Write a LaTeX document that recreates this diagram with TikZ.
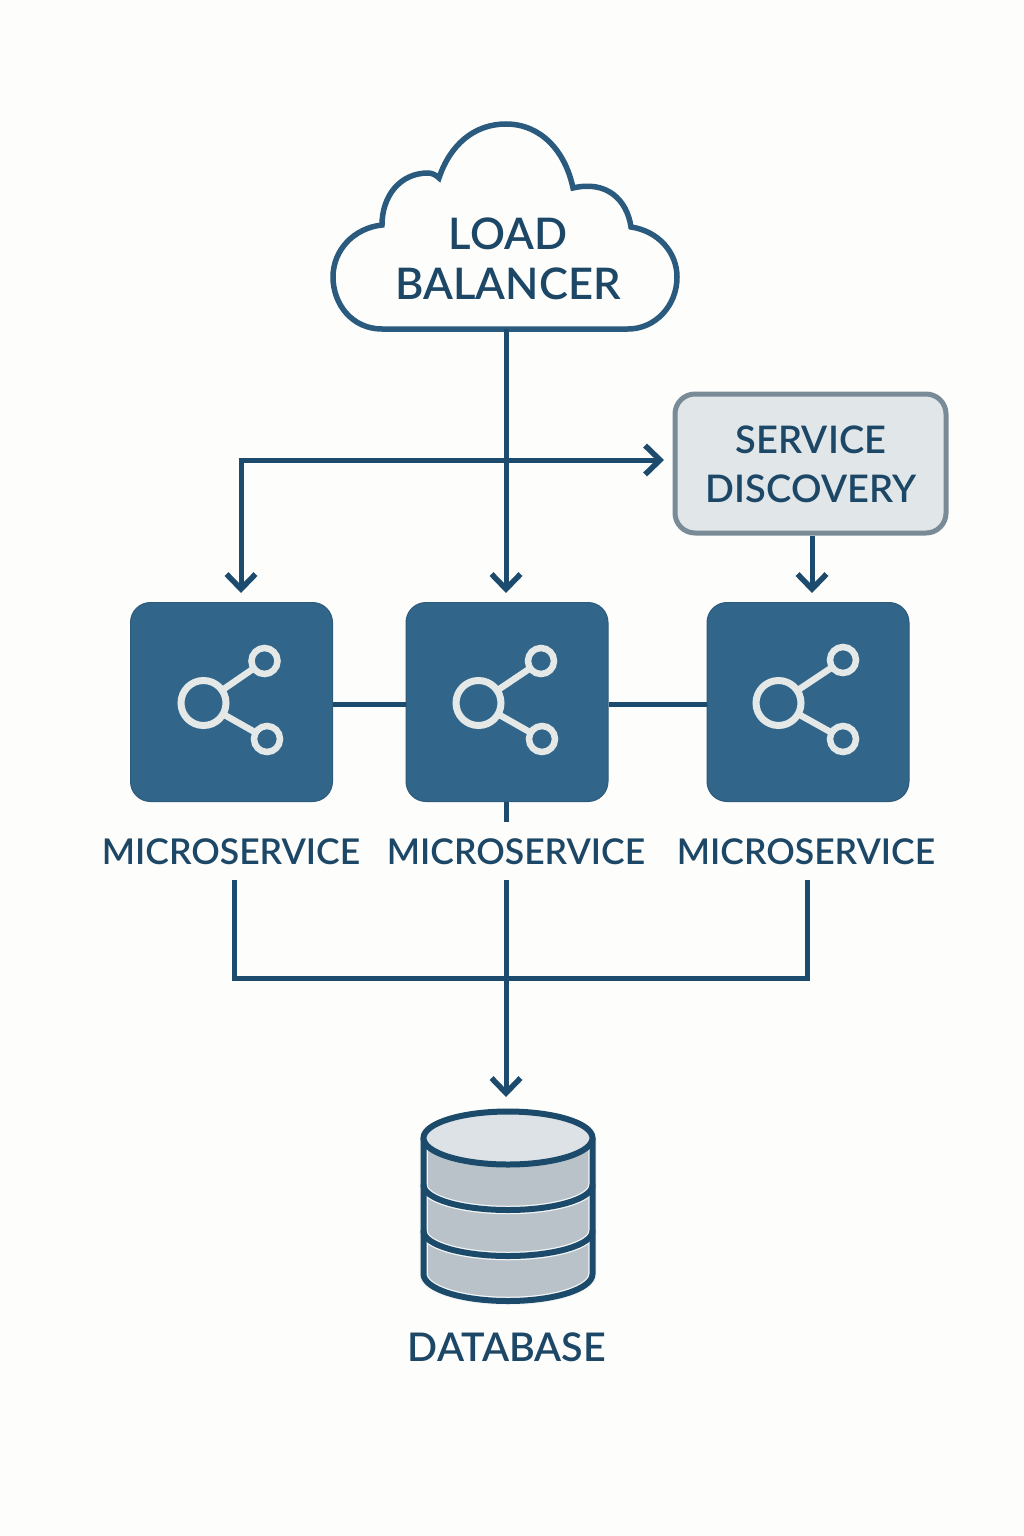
\documentclass[tikz,border=0pt]{standalone}
\usepackage{fontspec}
\setmainfont{Lato Semibold}
\usetikzlibrary{arrows.meta}
\definecolor{bgc}{HTML}{FDFDFB}
\definecolor{ink}{HTML}{1C4766}
\definecolor{line}{HTML}{1D4B6E}
\definecolor{ms}{HTML}{31658A}
\definecolor{icon}{HTML}{E4E9E8}
\definecolor{sdfill}{HTML}{E1E6E9}
\definecolor{sdedge}{HTML}{7A8B98}
\definecolor{dbtop}{HTML}{DCE2E5}
\definecolor{dbbody}{HTML}{B8C2C8}
\definecolor{dbedge}{HTML}{1B4A6B}
\tikzset{
  label text/.style={text=ink,inner sep=0pt,align=center,font=\fontsize{43.5}{50}\selectfont},
  sd text/.style={text=ink,inner sep=0pt,align=center,font=\fontsize{38}{49}\selectfont},
  ms label/.style={text=ink,inner sep=0pt,font=\fontsize{35.5}{36}\selectfont},
  db label/.style={text=ink,inner sep=0pt,font=\fontsize{39.5}{40}\selectfont},
  ms box/.style={draw=ms!90!black,line width=1pt,fill=ms,rounded corners=20pt,minimum width=202pt,minimum height=199pt,inner sep=0pt},
  sd box/.style={draw=sdedge,line width=5pt,fill=sdfill,rounded corners=20pt,minimum width=271pt,minimum height=139pt,inner sep=0pt},
  conn/.style={draw=line,line width=5pt},
  arr/.style={conn,-{Straight Barb[length=15pt,width=29pt,line width=5.5pt]}},
  cloudline/.style={draw=ms!65!ink,line width=5.5pt,fill=bgc,line join=miter},
  hub/.style={draw=icon,line width=7pt},
  leaf/.style={draw=icon,line width=6.5pt},
  spoke/.style={draw=icon,line width=6.5pt},
  dbline/.style={draw=dbedge,line width=6pt,line cap=round,line join=round},
  halo/.style={draw=white!85!dbbody,line width=8.5pt},
}
\newcommand{\shareicon}[6]{%
  \draw[spoke] (#1,#2) -- (#3,#4);
  \draw[spoke] (#1,#2) -- (#5,#6);
  \draw[hub,fill=ms] (#1,#2) circle (22.5pt);
  \draw[leaf,fill=ms] (#3,#4) circle (13pt);
  \draw[leaf,fill=ms] (#5,#6) circle (13pt);
}
\begin{document}
\begin{tikzpicture}[x=1pt,y=-1pt]
\useasboundingbox (0,0) rectangle (1024,1536);
\fill[bgc] (0,0) rectangle (1024,1536);

% cloud
\draw[cloudline] (382,329)
  .. controls (352,329) and (333,304) .. (333,277)
  .. controls (333,250) and (354,228) .. (382,225)
  .. controls (382,196) and (400,173) .. (428,173)
  .. controls (432,173) and (436,175) .. (439,178)
  .. controls (450,145) and (474,124) .. (506,124)
  .. controls (540,124) and (565,150) .. (573,188)
  .. controls (607,180) and (627,200) .. (631,227)
  .. controls (658,231) and (677,252) .. (677,277)
  .. controls (677,306) and (655,329) .. (628,329)
  -- cycle;
\coordinate (lbout) at (506,329);
\node[label text] (lb) at (508,259) {LOAD\\BALANCER};

% boxes
\node[sd box] (sd) at (810.5,463.5) {};
\node[sd text] (sdt) at (811,464.5) {SERVICE\\DISCOVERY};
\node[ms box] (m1) at (231.5,702) {};
\node[ms box] (m2) at (507,702) {};
\node[ms box] (m3) at (808,702) {};
\shareicon{203.5}{703}{264.5}{661}{267}{739}
\shareicon{478.5}{703}{541}{661}{542}{739}
\shareicon{778.5}{703}{843}{660}{843}{739}

\node[ms label] (l1) at (231,852) {MICROSERVICE};
\node[ms label] (l2) at (516,852) {MICROSERVICE};
\node[ms label] (l3) at (806,852) {MICROSERVICE};

% named ends
\coordinate (m1in) at (241,593);
\coordinate (m2in) at (506,593);
\coordinate (m3in) at (812,593);
\coordinate (sdin) at (664,460);
\coordinate (split) at (241,460);
\coordinate (stub) at (506,822);
\coordinate (b1) at (234,880);
\coordinate (b2) at (506,880);
\coordinate (b3) at (807,880);
\coordinate (dbin) at (506,1097);
\coordinate (hl) at (0,704);

% connectors
\draw[arr] (lbout) -- (m2in);
\draw[arr] (split) -- (sdin);
\draw[arr,line cap=rect] (split) -- (m1in);
\draw[arr] (sd.south -| m3in) -- (m3in);
\draw[conn] (m1.east |- hl) -- (m2.west |- hl);
\draw[conn] (m2.east |- hl) -- (m3.west |- hl);
\draw[conn] (m2in |- m2.south) -- (stub);
\draw[conn,line join=miter] (b1) -- (234,978) -- (807,978) -- (b3);
\draw[arr] (b2) -- (dbin);

% database
\fill[dbbody] (423.5,1138) -- (423.5,1274) arc[start angle=180,end angle=360,x radius=84.5pt,y radius=27pt] -- (592.5,1138) -- cycle;
\draw[halo] (423.5,1185) arc[start angle=180,end angle=360,x radius=84.5pt,y radius=25pt];
\draw[halo] (423.5,1231) arc[start angle=180,end angle=360,x radius=84.5pt,y radius=25pt];
\draw[halo] (423.5,1138) -- (423.5,1274) arc[start angle=180,end angle=360,x radius=84.5pt,y radius=27pt] -- (592.5,1138);
\draw[dbline] (423.5,1185) arc[start angle=180,end angle=360,x radius=84.5pt,y radius=25pt];
\draw[dbline] (423.5,1231) arc[start angle=180,end angle=360,x radius=84.5pt,y radius=25pt];
\draw[dbline] (423.5,1138) -- (423.5,1274) arc[start angle=180,end angle=360,x radius=84.5pt,y radius=27pt] -- (592.5,1138);
\draw[dbline,fill=dbtop] (508,1138) ellipse[x radius=84.5pt,y radius=26.5pt];
\node[db label] (dbt) at (507,1347) {DATABASE};
\end{tikzpicture}
\end{document}
